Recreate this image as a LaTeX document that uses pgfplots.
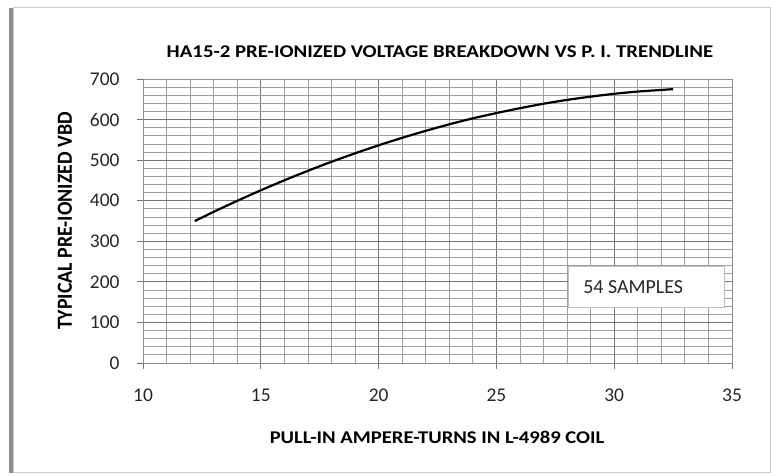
\documentclass[border=0pt]{standalone}
\usepackage{pgfplots}
\pgfplotsset{compat=1.18}
\usepackage{fontspec}
\setmainfont{Carlito}
\begin{document}
\begin{tikzpicture}[x=1bp,y=1bp]
\fill[white] (0,0) rectangle (775,476);
\fill[black!45] (9,3) rectangle (768,468);
\fill[white] (13,4) rectangle (770,469);
\draw[black!20, line width=0.8bp] (13,4) rectangle (770,469);
\begin{axis}[
  at={(143bp,113bp)}, anchor=south west,
  scale only axis, width=589bp, height=284bp,
  xmin=10, xmax=35, ymin=0, ymax=700,
  xtick={10,15,20,25,30,35}, ytick={0,100,200,300,400,500,600,700},
  minor x tick num=4, minor y tick num=4,
  grid=both,
  major grid style={color=black!55, line width=0.9bp},
  minor grid style={color=black!38, line width=0.8bp},
  axis line style={color=black!45, line width=0.9bp},
  tick style={color=black!55, line width=0.9bp},
  tick align=outside, major tick length=6bp, minor tick length=0pt,
  xtick pos=bottom, ytick pos=left,
  /pgf/number format/assume math mode=true,
  ticklabel style={font=\fontsize{19.5}{22}\selectfont, text=black!85},
  xticklabel shift=16bp,
  yticklabel shift=14bp,
  clip=false,
]
\addplot[black, line width=2.2bp, smooth] coordinates {
(12.2,350) (13,372.6) (14,399.7) (15,425.6) (16,450.3) (17,473.7) (18,495.9)
(19,516.8) (20,536.5) (21,555.0) (22,572.2) (23,588.3) (24,603.0) (25,616.0)
(26,628.0) (27,639.0) (28,648.5) (29,656.5) (30,663.5) (31,669.0) (32,673.0) (32.5,675.0)
};
\draw[fill=white, draw=black!25, line width=1bp] (axis cs:28.04,138) rectangle (axis cs:34.7,237);
\node[anchor=west, inner sep=0pt, font=\fontsize{20}{22}\selectfont, text=black!85] at (axis cs:28.68,187.5) {54 SAMPLES};
\end{axis}
\node[font=\bfseries\fontsize{18}{22}\selectfont, xscale=1.16] at (440,424) {HA15-2 PRE-IONIZED VOLTAGE BREAKDOWN VS P. I. TRENDLINE};
\node[font=\bfseries\fontsize{18}{22}\selectfont, xscale=1.15] at (437,39) {PULL-IN AMPERE-TURNS IN L-4989 COIL};
\node[font=\bfseries\fontsize{20}{22}\selectfont, rotate=90, yscale=1.08] at (65,255) {TYPICAL PRE-IONIZED VBD};
\end{tikzpicture}
\end{document}
